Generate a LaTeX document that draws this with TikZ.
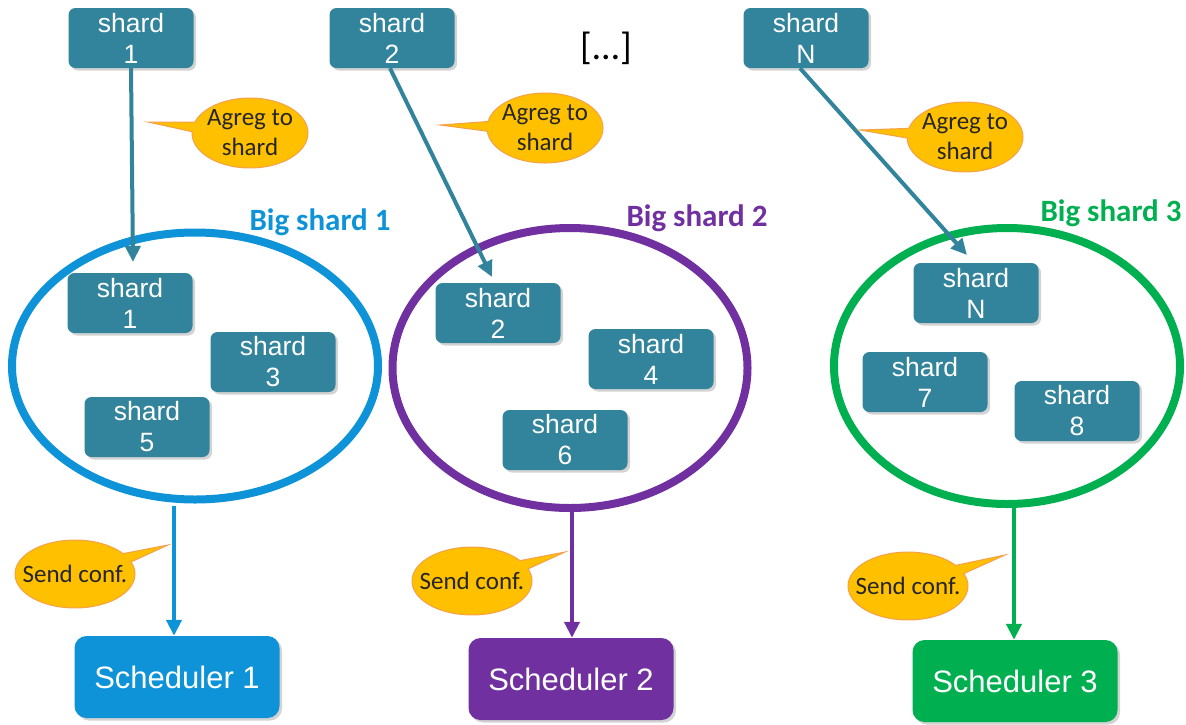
\documentclass[tikz,border=0pt]{standalone}
\usepackage{fontspec}
\setmainfont{Liberation Sans}
\newfontfamily\calib{Carlito}
\usetikzlibrary{shapes.geometric,shapes.callouts,shadows,arrows.meta}
\definecolor{shardc}{HTML}{31849B}
\definecolor{bluec}{HTML}{0E93D8}
\definecolor{purplec}{HTML}{7030A0}
\definecolor{greenc}{HTML}{00B050}
\definecolor{calloutc}{HTML}{FFC000}
\definecolor{calloutb}{HTML}{F5A04A}
\begin{document}
\begin{tikzpicture}[x=1pt,y=1pt,
  shardbox/.style={fill=shardc, rounded corners=7pt, minimum width=125pt, minimum height=60pt,
    text=white, align=center, inner sep=0pt, font=\fontsize{26.5}{31}\selectfont,
    drop shadow={opacity=0.35, shadow xshift=2.5pt, shadow yshift=-2.5pt}},
  schedbox/.style={rounded corners=12pt, minimum width=205pt, minimum height=82pt,
    text=white, inner sep=0pt, font=\fontsize{31}{36}\selectfont,
    drop shadow={opacity=0.35, shadow xshift=2.5pt, shadow yshift=-2.5pt}},
  bigell/.style={ellipse, draw, line width=8pt, inner sep=0pt},
  biglabel/.style={font=\calib\bfseries\fontsize{31}{36}\selectfont},
  note/.style={ellipse callout, fill=calloutc, draw=calloutb, line width=1pt,
    inner xsep=-25pt, inner ysep=-12pt, align=center, text=black!85, font=\calib\fontsize{25}{30}\selectfont,
    callout pointer arc=16},
  tealarrow/.style={draw=shardc, line width=4pt, -{Triangle[length=16pt,width=15pt]}},
  downarrow/.style={line width=4pt, -{Triangle[length=16pt,width=15pt]}}
]
\useasboundingbox (0,-724) rectangle (1186,0);

% top shards
\node[shardbox] (t1) at (131,-38) {shard\\1};
\node[shardbox] (t2) at (392,-38) {shard\\2};
\node[shardbox] (tn) at (806,-38) {shard\\N};
\node[font=\calib\fontsize{38}{44}\selectfont] (dots) at (606,-48) {[\kern1pt…\kern1pt]};

% big ellipses
\node[bigell, draw=bluec, minimum width=366pt, minimum height=267pt] (bs1) at (195,-366) {};
\node[bigell, draw=purplec, minimum width=355pt, minimum height=280pt] (bs2) at (570,-368) {};
\node[bigell, draw=greenc, minimum width=346pt, minimum height=276pt] (bs3) at (1007,-366) {};

\node[biglabel, text=bluec] (l1) at (320,-222) {Big shard 1};
\node[biglabel, text=purplec] (l2) at (697,-218) {Big shard 2};
\node[biglabel, text=greenc] (l3) at (1111,-213) {Big shard 3};

% inner shards
\node[shardbox] (s1) at (130,-303) {shard\\1};
\node[shardbox] (s3) at (273,-362) {shard\\3};
\node[shardbox] (s5) at (147,-427) {shard\\5};
\node[shardbox] (s2) at (498,-313) {shard\\2};
\node[shardbox] (s4) at (651,-359) {shard\\4};
\node[shardbox] (s6) at (565,-440) {shard\\6};
\node[shardbox] (sn) at (976,-293) {shard\\N};
\node[shardbox] (s7) at (925,-382) {shard\\7};
\node[shardbox] (s8) at (1077,-411) {shard\\8};

% schedulers
\node[schedbox, fill=bluec] (sc1) at (177,-677) {Scheduler 1};
\node[schedbox, fill=purplec] (sc2) at (571,-679) {Scheduler 2};
\node[schedbox, fill=greenc] (sc3) at (1015,-681) {Scheduler 3};

% arrows from top shards
\coordinate (a1) at (133,-262);
\coordinate (a2) at (492,-277);
\coordinate (a3) at (967,-255);
\draw[tealarrow] (t1.south) -- (a1);
\draw[tealarrow] (t2.south) ++(-2,0) coordinate (t2s) -- (a2);
\draw[tealarrow] (tn.south) ++(-6,0) coordinate (tns) -- (a3);

% down arrows
\coordinate (d1) at (174,-506);
\coordinate (d2) at (572,-510);
\coordinate (d3) at (1014,-508);
\draw[downarrow, draw=bluec] (d1) -- (d1 |- sc1.north);
\draw[downarrow, draw=purplec] (d2) -- (d2 |- sc2.north);
\draw[downarrow, draw=greenc] (d3) -- (d3 |- sc3.north);

% callouts
\node[note, minimum width=116pt, minimum height=70pt, callout absolute pointer={(148,-122)}] (c1) at (250,-133) {Agreg to\\shard};
\node[note, minimum width=116pt, minimum height=70pt, callout absolute pointer={(440,-125)}] (c2) at (545,-128) {Agreg to\\shard};
\node[note, minimum width=116pt, minimum height=70pt, callout absolute pointer={(860,-130)}] (c3) at (965,-137) {Agreg to\\shard};
\node[note, minimum width=120pt, minimum height=68pt, callout absolute pointer={(168,-545)}] (n1) at (75,-574) {Send conf.};
\node[note, minimum width=120pt, minimum height=68pt, callout absolute pointer={(565,-552)}] (n2) at (472,-581) {Send conf.};
\node[note, minimum width=120pt, minimum height=68pt, callout absolute pointer={(1005,-555)}] (n3) at (908,-586) {Send conf.};
\end{tikzpicture}
\end{document}
